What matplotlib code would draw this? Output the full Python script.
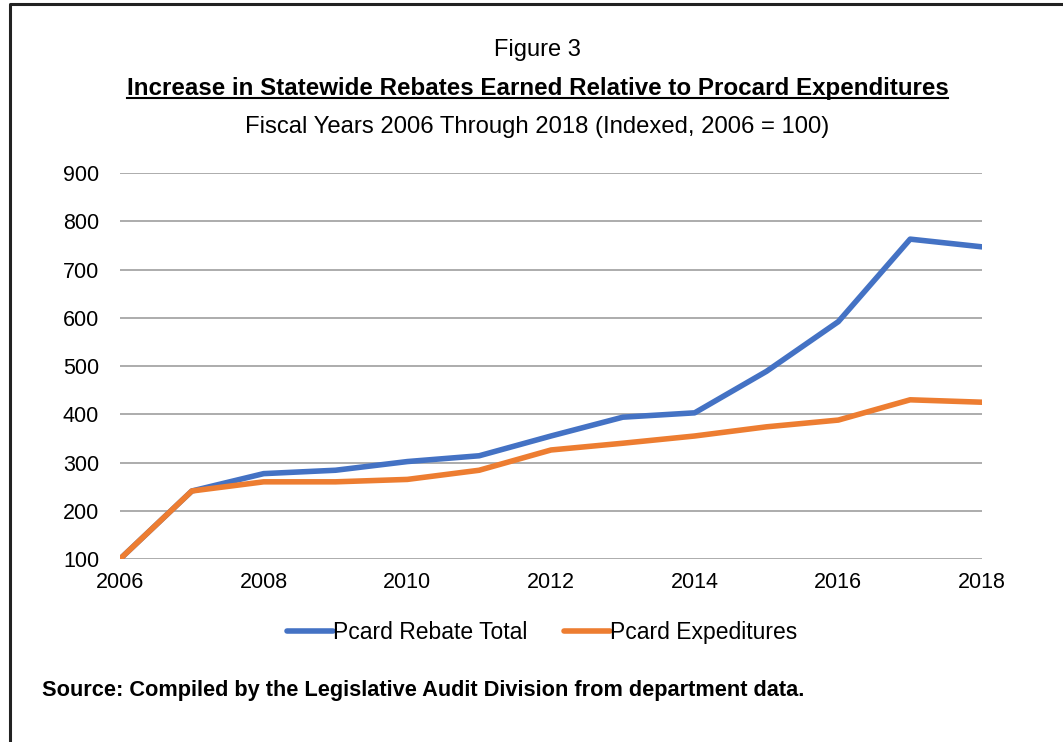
import matplotlib.pyplot as plt
from matplotlib.lines import Line2D

plt.rcParams['font.family'] = ['Liberation Sans', 'DejaVu Sans']

years = [2006, 2007, 2008, 2009, 2010, 2011, 2012, 2013, 2014, 2015, 2016, 2017, 2018]
rebate = [100, 241, 277, 284, 302, 314, 355, 394, 403, 489, 592, 763, 747]
expend = [100, 241, 260, 260, 265, 284, 326, 340, 355, 374, 388, 430, 425]

blue = "#4472c4"
orange = "#ed7d31"

fig = plt.figure(figsize=(10.63, 7.42), dpi=100)
ax = fig.add_axes([0.1129, 0.2466, 0.8109, 0.5202])

ax.plot(years, rebate, color=blue, lw=4, solid_capstyle="round", label="Pcard Rebate Total", zorder=3)
ax.plot(years, expend, color=orange, lw=4, solid_capstyle="round", label="Pcard Expeditures", zorder=4)

ax.set_xlim(2006, 2018)
ax.set_ylim(100, 900)
ax.set_xticks(range(2006, 2019, 2))
ax.set_yticks(range(100, 901, 100))
ax.grid(axis="y", color="#a6a6a6", lw=1.3)
ax.set_axisbelow(True)
for s in ax.spines.values():
    s.set_visible(False)
ax.tick_params(length=0, labelsize=15.5, colors="black")
ax.tick_params(axis="y", pad=15)
ax.tick_params(axis="x", pad=9)

fig.text(0.5057, 0.932, "Figure 3", ha="center", va="center", fontsize=17)
t = fig.text(0.5057, 0.881, "Increase in Statewide Rebates Earned Relative to Procard Expenditures",
             ha="center", va="center", fontsize=17.4, fontweight="bold")
fig.text(0.5057, 0.829, "Fiscal Years 2006 Through 2018 (Indexed, 2006 = 100)",
         ha="center", va="center", fontsize=17.2)

leg = fig.legend(loc="center", bbox_to_anchor=(0.51, 0.148), ncol=2, frameon=False,
                 fontsize=16.5, handlelength=2.0, handletextpad=0.0, columnspacing=1.6)

fig.text(0.0395, 0.069, "Source: Compiled by the Legislative Audit Division from department data.",
         ha="left", va="center", fontsize=15.7, fontweight="bold")

# underline for bold title
fig.canvas.draw()
bb = t.get_window_extent().transformed(fig.transFigure.inverted())
fig.add_artist(Line2D([bb.x0, bb.x1], [bb.y0 + 0.002, bb.y0 + 0.002], color="black", lw=1.5,
                      transform=fig.transFigure))

# outer frame
fig.add_artist(Line2D([0.0095, 0.0095, 1.0], [0.0, 0.9946, 0.9946], color="#222222", lw=2.2,
                      transform=fig.transFigure))

fig.savefig("out.png", dpi=100)
